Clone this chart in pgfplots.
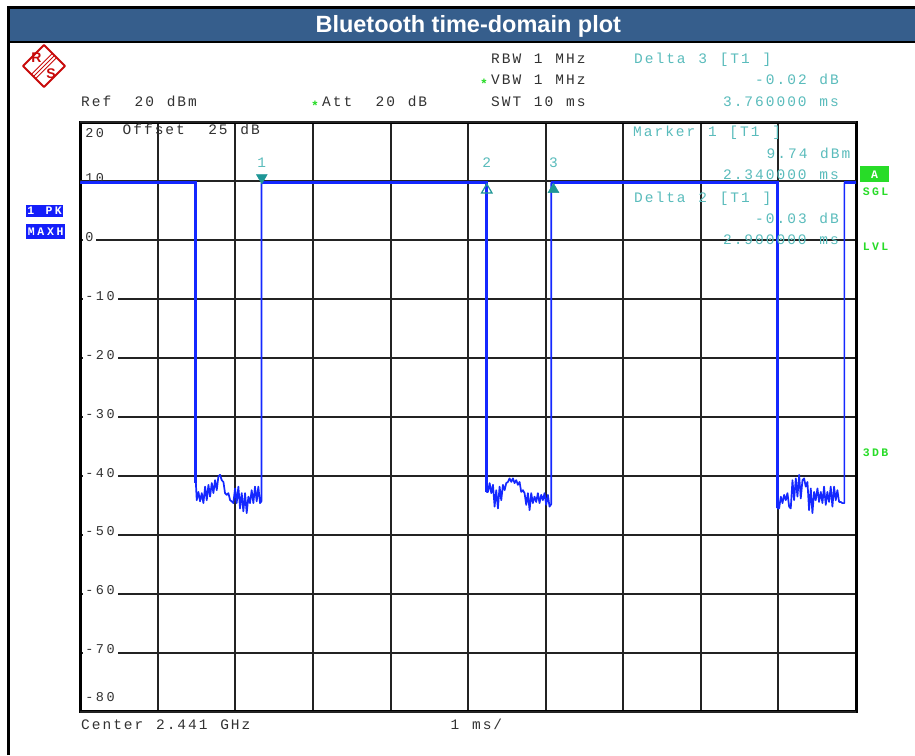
\documentclass[border=0pt]{standalone}
\usepackage{fontspec}
\usepackage{pgfplots}
\pgfplotsset{compat=1.18}
\setmainfont{Liberation Sans}
\newfontfamily\rsmono{Liberation Mono}
\definecolor{rsgray}{RGB}{50,50,50}
\definecolor{rsteal}{RGB}{90,188,188}
\definecolor{rsmark}{RGB}{30,150,150}
\definecolor{rsgreen}{RGB}{40,220,40}
\definecolor{rsblue}{RGB}{20,40,255}
\definecolor{rsbox}{RGB}{20,30,250}
\definecolor{titlebar}{RGB}{54,94,140}
\definecolor{rsred}{RGB}{200,10,10}
\definecolor{gridc}{RGB}{35,35,35}
\ExplSyntaxOn
\NewDocumentCommand\rsx{mm}{\tl_map_inline:nn {#2} {\makebox[#1][c]{##1}}}
\ExplSyntaxOff
\newcommand{\rs}[1]{\rsx{10.7pt}{#1}}
\newcommand{\hf}{\rsmono\fontsize{14.5}{14.5}\selectfont}
\newcommand{\tf}{\rsmono\fontsize{13.5}{13.5}\selectfont}
\newcommand{\bfnt}{\rsmono\bfseries\fontsize{11.5}{11.5}\selectfont}
\begin{document}
\begin{tikzpicture}
\begin{scope}[x=1pt,y=1pt]
\fill[white] (0,0) rectangle (915,755);
% title bar
\fill[titlebar] (9,714) rectangle (915,746);
\draw[line width=2.5pt] (8.5,0) -- (8.5,747.5) -- (915,747.5);
\draw[line width=2pt] (8.5,713) -- (915,713);
\node[text=white, font=\fontsize{23.5}{23.5}\selectfont\bfseries, anchor=base] at (468.3,722) {Bluetooth time-domain plot};
% logo
\begin{scope}[rsred]
\draw[line width=1.8pt, line join=round] (44,710) -- (65,689) -- (44,668) -- (23,689) -- cycle;
\draw[line width=0.9pt] (54.5,699.5) -- (33.5,678.5);
\draw[line width=0.9pt] (56.6,697.4) -- (35.6,676.4);
\draw[line width=0.9pt] (52.4,701.6) -- (31.4,680.6);
\node[font=\fontsize{14}{14}\selectfont\bfseries, text=rsred] at (36.5,697.5) {R};
\node[font=\fontsize{14}{14}\selectfont\bfseries, text=rsred] at (51,681.5) {S};
\end{scope}
\end{scope}
\begin{axis}[
  at={(80.3pt,43.3pt)}, anchor=south west,
  width=775.7pt, height=589.2pt, scale only axis,
  xmin=0, xmax=10, ymin=-80, ymax=20,
  xtick={0,1,...,10}, xticklabel={\phantom{0}},
  ytick={-70,-60,...,0},
  yticklabels={\rs{-70},\rs{-60},\rs{-50},\rs{-40},\rs{-30},\rs{-20},\rs{-10},\rs{0}},
  extra y ticks={-80,10,20},
  extra y tick labels={\raisebox{11pt}{\rs{-80}},\rs{10},\raisebox{-14pt}{\rs{20}}},
  extra y tick style={grid=major, yticklabel style={fill=none}},
  grid=major,
  major grid style={gridc, line width=2pt},
  major tick length=0pt,
  axis line style={line width=3pt, black},
  yticklabel style={anchor=base west, xshift=2pt, yshift=-1pt, fill=white, inner sep=1.5pt, text=rsgray, font=\tf},
]
\addplot[rsblue, line width=1.7pt, line join=round] coordinates {
(0,9.74) (1.49,9.74) (1.49,-41.2) (1.501,-44.1) (1.523,-42.7) (1.544,-44.3) (1.566,-42.9) (1.587,-44.6)
(1.609,-41.8) (1.630,-44.1) (1.652,-41.5) (1.673,-43.5) (1.695,-41.2) (1.716,-42.9) (1.737,-40.7)
(1.759,-42.4) (1.780,-40.1) (1.802,-39.8) (1.823,-40.7) (1.845,-41.0) (1.866,-42.9) (1.888,-43.2)
(1.909,-42.9) (1.931,-44.1) (1.952,-44.3) (1.973,-44.6) (1.995,-42.1) (2.016,-44.6) (2.038,-41.8)
(2.059,-45.5) (2.081,-42.9) (2.102,-46.0) (2.124,-42.9) (2.145,-46.3) (2.167,-43.5) (2.188,-44.6)
(2.209,-42.4) (2.231,-44.6) (2.252,-41.8) (2.274,-44.3) (2.295,-41.8) (2.317,-44.6) (2.335,-44.3)
(2.335,9.74) (5.24,9.74) (5.24,-42.7)
(5.255,-42.7) (5.277,-41.2) (5.298,-42.9) (5.320,-41.5) (5.341,-45.2) (5.362,-42.4) (5.384,-45.5)
(5.405,-41.8) (5.427,-44.1) (5.448,-41.5) (5.470,-42.4) (5.491,-41.2) (5.513,-41.0) (5.534,-40.4)
(5.556,-41.0) (5.577,-40.4) (5.598,-41.2) (5.620,-40.7) (5.641,-41.5) (5.663,-41.0) (5.684,-42.7)
(5.706,-42.4) (5.727,-42.9) (5.749,-44.9) (5.770,-42.9) (5.792,-45.8) (5.813,-42.9) (5.834,-44.6)
(5.856,-43.5) (5.877,-44.4) (5.899,-42.9) (5.920,-44.6) (5.942,-43.2) (5.963,-44.1) (5.985,-42.9)
(6.006,-44.9) (6.028,-43.2) (6.049,-45.2) (6.07,-44.8)
(6.07,9.74) (8.99,9.74) (8.99,-45.5)
(9.009,-45.5) (9.031,-43.5) (9.052,-44.6) (9.073,-43.2) (9.095,-44.1) (9.116,-42.9) (9.138,-45.2)
(9.159,-45.5) (9.181,-40.7) (9.202,-44.1) (9.224,-40.4) (9.245,-43.5) (9.267,-39.8) (9.288,-43.8)
(9.310,-40.7) (9.331,-40.4) (9.352,-41.8) (9.374,-41.0) (9.395,-45.8) (9.417,-42.1) (9.438,-46.3)
(9.460,-42.7) (9.481,-44.1) (9.503,-42.1) (9.524,-44.4) (9.546,-42.7) (9.567,-44.6) (9.588,-41.8)
(9.610,-44.9) (9.631,-42.7) (9.653,-44.4) (9.674,-41.8) (9.696,-45.2) (9.717,-41.8) (9.739,-44.1)
(9.760,-42.4) (9.782,-44.4) (9.803,-44.4) (9.825,-44.6) (9.85,-44.6)
(9.85,9.74) (10,9.74)
};
\addplot[rsblue, line width=3pt] coordinates {(0,9.74) (1.49,9.74) (1.49,-41.2)};
\addplot[rsblue, line width=3pt] coordinates {(2.335,9.74) (5.24,9.74) (5.24,-42.7)};
\addplot[rsblue, line width=3pt] coordinates {(6.07,9.74) (8.99,9.74) (8.99,-45.5)};
\addplot[rsblue, line width=3pt] coordinates {(9.85,9.74) (10,9.74)};
% markers
\addplot[only marks, mark=triangle*, mark size=6.3pt, mark options={fill=rsmark, draw=rsmark, yshift=5.3pt, rotate=180}] coordinates {(2.34,9.74)};
\addplot[only marks, mark=triangle, mark size=6pt, mark options={draw=rsmark, line width=1.2pt, yshift=-7pt}] coordinates {(5.24,9.74)};
\addplot[only marks, mark=triangle*, mark size=6.3pt, mark options={fill=rsmark, draw=rsmark, yshift=-6.5pt}] coordinates {(6.10,9.74)};
\node[anchor=base, text=rsteal, font=\hf, yshift=15.5pt] at (axis cs:2.34,9.74) {1};
\node[anchor=base, text=rsteal, font=\hf, yshift=15.5pt] at (axis cs:5.24,9.74) {2};
\node[anchor=base, text=rsteal, font=\hf, yshift=15.5pt] at (axis cs:6.10,9.74) {3};
\end{axis}
\begin{scope}[x=1pt,y=1pt]
% header texts
\begin{scope}[every node/.style={inner sep=0pt, font=\hf}]
\node[anchor=base west, text=rsgray] at (80,648) {\rs{Ref~~20~dBm}};
\node[text=rsgreen, font=\rsmono\bfseries\fontsize{13}{13}\selectfont] at (315,649.5) {*};
\node[anchor=base west, text=rsgray] at (321,648) {\rs{Att~~20~dB}};
\node[anchor=base west, text=rsgray] at (490,691) {\rs{RBW~1~MHz}};
\node[text=rsgreen, font=\rsmono\bfseries\fontsize{13}{13}\selectfont] at (484,671.5) {*};
\node[anchor=base west, text=rsgray] at (490,670) {\rs{VBW~1~MHz}};
\node[anchor=base west, text=rsgray] at (490,648) {\rs{SWT~10~ms}};
\node[anchor=base west, text=rsteal] at (633,691) {\rs{Delta~3~[T1~]}};
\node[anchor=base east, text=rsteal] at (840,670) {\rs{-0.02~dB}};
\node[anchor=base east, text=rsteal] at (840,648) {\rs{3.760000~ms}};
\node[anchor=base west, text=rsteal] at (632,618) {\rs{Marker~1~[T1~]}};
\node[anchor=base east, text=rsteal] at (851.5,596) {\rs{9.74~dBm}};
\node[anchor=base east, text=rsteal] at (840,575) {\rs{2.340000~ms}};
\node[anchor=base west, text=rsteal] at (633,552) {\rs{Delta~2~[T1~]}};
\node[anchor=base east, text=rsteal] at (840,531) {\rs{-0.03~dB}};
\node[anchor=base east, text=rsteal] at (840,510) {\rs{2.900000~ms}};
\node[anchor=base west, text=rsgray] at (121.5,620) {\rs{Offset~~25~dB}};
\node[anchor=base west, text=rsgray] at (80,26) {\rs{Center~2.441~GHz}};
\node[anchor=base west, text=rsgray] at (449.5,26) {\rs{1~ms/}};
\end{scope}
% left status boxes
\fill[rsbox] (26,538) rectangle (63,550);
\node[anchor=base west, inner sep=0pt, text=white, font=\bfnt] at (26,540) {\rsx{9.2pt}{1~PK}};
\fill[rsbox] (26,516) rectangle (65,531);
\node[anchor=base west, inner sep=0pt, text=white, font=\bfnt] at (26.3,519.5) {\rsx{9.6pt}{MAXH}};
% right status
\fill[rsgreen] (860,573) rectangle (889,589);
\node[anchor=base, inner sep=0pt, text=white, font=\bfnt] at (874.5,576.5) {A};
\node[anchor=base west, inner sep=0pt, text=rsgreen, font=\bfnt] at (861.5,559) {\rsx{9.2pt}{SGL}};
\node[anchor=base west, inner sep=0pt, text=rsgreen, font=\bfnt] at (861.5,504) {\rsx{9.2pt}{LVL}};
\node[anchor=base west, inner sep=0pt, text=rsgreen, font=\bfnt] at (861.5,298) {\rsx{9.2pt}{3DB}};
\end{scope}
\pgfresetboundingbox
\path[use as bounding box] (0,0) rectangle (915pt,755pt);
\end{tikzpicture}
\end{document}
